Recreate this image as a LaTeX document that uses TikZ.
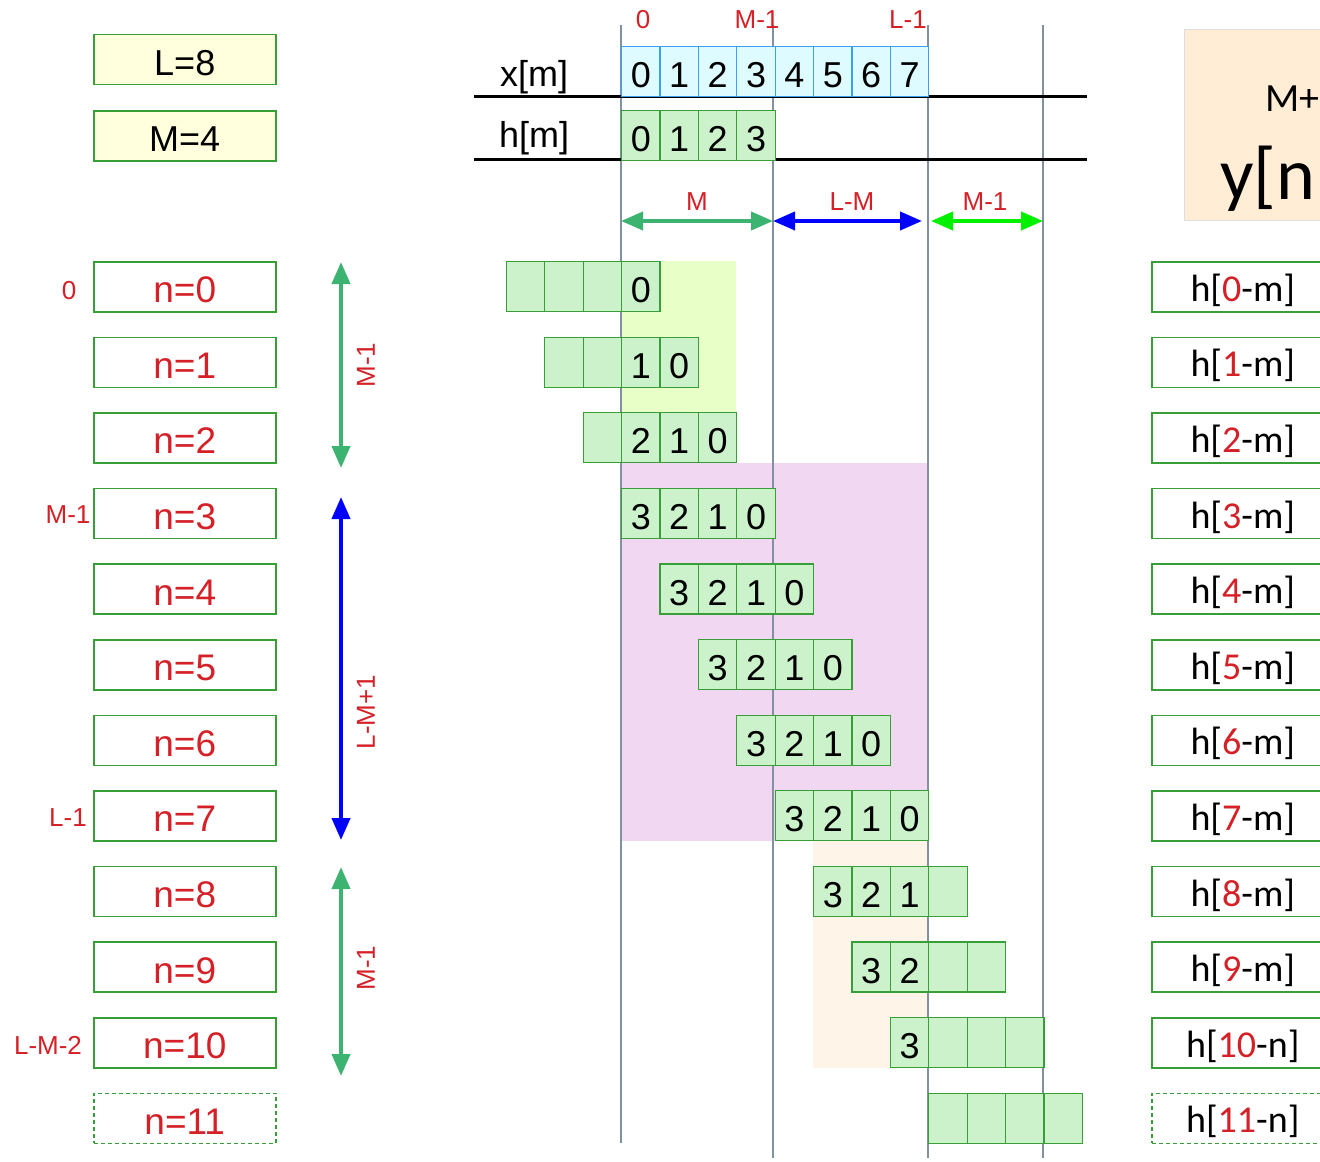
\documentclass[tikz,border=0pt]{standalone}
\usepackage{fontspec}
\setmainfont{Liberation Sans}
\newfontfamily\calibri{Carlito}
\usetikzlibrary{arrows.meta}

\definecolor{numred}{RGB}{212,32,38}
\definecolor{cellfill}{RGB}{204,242,204}
\definecolor{cellline}{RGB}{56,158,56}
\definecolor{xfill}{RGB}{222,252,255}
\definecolor{xline}{RGB}{60,160,240}
\definecolor{paramfill}{RGB}{255,255,221}
\definecolor{guide}{RGB}{130,145,162}
\definecolor{zoneA}{RGB}{232,255,200}
\definecolor{zoneB}{RGB}{242,215,242}
\definecolor{zoneC}{RGB}{255,244,232}
\definecolor{yfill}{RGB}{255,237,213}
\definecolor{yline}{RGB}{222,222,222}
\definecolor{mgreen}{RGB}{60,179,113}
\definecolor{lgreen}{RGB}{0,240,0}

\tikzset{
  cell/.style={draw=cellline, fill=cellfill, line width=0.6pt, minimum width=19.2pt,
    minimum height=25pt, inner sep=0pt, anchor=north west, text height=16pt, text depth=0pt,
    font=\fontsize{18}{18}\selectfont},
  xcell/.style={cell, draw=xline, fill=xfill},
  rowbox/.style={draw=cellline, fill=white, line width=0.75pt, minimum width=91pt,
    minimum height=25pt, inner sep=0pt, anchor=north west},
  nbox/.style={rowbox, text=numred, text height=16pt, text depth=0pt, font=\fontsize{18.5}{18.5}\selectfont},
  hbox/.style={rowbox, text height=14.5pt, text depth=0pt, font=\calibri\fontsize{19}{19}\selectfont},
  parbox/.style={rowbox, fill=paramfill, text height=16pt, text depth=0pt, font=\fontsize{18}{18}\selectfont},
  ghost/.style={dash pattern=on 2pt off 1.5pt},
  tag/.style={text=numred, font=\fontsize{13}{13}\selectfont, inner sep=0pt},
  sig/.style={font=\fontsize{18}{18}\selectfont, inner sep=0pt},
  dim/.style={line width=2pt, {Triangle[length=11pt,width=9pt]}-{Triangle[length=11pt,width=9pt]}},
  guideline/.style={draw=guide, line width=0.6pt},
  axis/.style={line width=1.5pt}
}

\begin{document}
\begin{tikzpicture}[x=0.5pt,y=-0.5pt]
  \useasboundingbox (0,0) rectangle (1320,1161);
  \clip (0,0) rectangle (1320,1161);

  % zones
  \fill[zoneA] (621,261) rectangle (736,463);
  \fill[zoneB] (621,463) rectangle (928,841);
  \fill[zoneC] (813,841) rectangle (928,1068);

  % guides
  \foreach \gx/\gb in {621/1143,773/1158,928/1158,1043/1158}
    \draw[guideline] (\gx,25) -- (\gx,\gb);

  % axes
  \coordinate (xa) at (474,97);  \coordinate (xb) at (1087,97);
  \coordinate (ha) at (474,159); \coordinate (hb) at (1087,159);
  \draw[axis] (xa) -- (xb);
  \draw[axis] (ha) -- (hb);

  % parameters
  \node[parbox] (Lval) at (93,34) {L=8};
  \node[parbox] (Mval) at (93,110) {M=4};

  % input and filter
  \node[sig] (xlbl) at (534,77) {x[m]};
  \node[sig] (hlbl) at (534,138) {h[m]};
  \foreach \mm in {0,...,7}
    \node[xcell] (x\mm) at ({621+38.4*\mm},46) {\mm};
  \foreach \mm in {0,...,3}
    \node[cell] (h\mm) at ({621+38.4*\mm},110) {\mm};

  \node[tag] (t0) at (643,20) {0};
  \node[tag] (tM) at (757,20) {M-1};
  \node[tag] (tL) at (908,20) {L-1};

  % spans
  \coordinate (d0) at (621,221); \coordinate (d1) at (773,221);
  \coordinate (d2) at (922,221); \coordinate (d3) at (931,221);
  \coordinate (d4) at (1043,221);
  \draw[dim, mgreen] (d0) -- (d1);
  \draw[dim, blue] (d1) -- (d2);
  \draw[dim, lgreen] (d3) -- (d4);
  \node[tag] (sM) at (697,202) {M};
  \node[tag] (sLM) at (852,202) {L-M};
  \node[tag] (sM1) at (985,202) {M-1};

  % output box
  \node[draw=yline, fill=yfill, line width=0.6pt, minimum width=108pt, minimum height=95.5pt,
    anchor=north west, inner sep=0pt] (ybox) at (1184,29) {};
  \node[anchor=base west, inner sep=0pt, font=\calibri\fontsize{20}{20}\selectfont] (ysum) at (1265,112) {M+};
  \node[anchor=base west, inner sep=0pt, font=\calibri\fontsize{37}{37}\selectfont] (yout) at (1220,199) {y[n};

  % rows
  \foreach \row in {0,...,10}{
    \node[nbox] (n\row) at (93,{261+75.6*\row}) {n=\row};
  }
  \node[nbox, ghost] (n11) at (93,{261+75.6*11}) {n=11};
  \foreach \row in {0,...,9}{
    \node[hbox] (y\row) at (1151,{261+75.6*\row}) {h[\textcolor{numred}{\row}-m]};
  }
  \node[hbox] (y10) at (1151,{261+75.6*10}) {h[\textcolor{numred}{10}-n]};
  \node[hbox, ghost] (y11) at (1151,{261+75.6*11}) {h[\textcolor{numred}{11}-n]};

  % flipped filter per row
  \foreach \row in {0,...,11}{
    \foreach \col in {0,...,3}{
      \pgfmathtruncatemacro\mm{\row-3+\col}
      \pgfmathtruncatemacro\vv{3-\col}
      \ifnum\mm<0 \def\lbl{}\else\ifnum\mm>7 \def\lbl{}\else\edef\lbl{\vv}\fi\fi
      \node[cell] (c\row-\col) at ({621+38.4*\mm},{261+75.6*\row}) {\lbl};
    }
  }

  % row tags
  \node[tag] (r0) at (69,291) {0};
  \node[tag] (r3) at (68,515) {M-1};
  \node[tag] (r7) at (68,818) {L-1};
  \node[tag] (r10) at (48,1045) {L-M-2};

  % row spans
  \coordinate (v0) at (341,262);  \coordinate (v1) at (341,468);
  \coordinate (v2) at (341,497);  \coordinate (v3) at (341,840);
  \coordinate (v4) at (341,867);  \coordinate (v5) at (341,1076);
  \draw[dim, mgreen] (v0) -- (v1);
  \draw[dim, blue] (v2) -- (v3);
  \draw[dim, mgreen] (v4) -- (v5);
  \node[tag, rotate=90] (w1) at (366,365) {M-1};
  \node[tag, rotate=90] (w2) at (366,712) {L-M+1};
  \node[tag, rotate=90] (w3) at (366,968) {M-1};
\end{tikzpicture}
\end{document}
